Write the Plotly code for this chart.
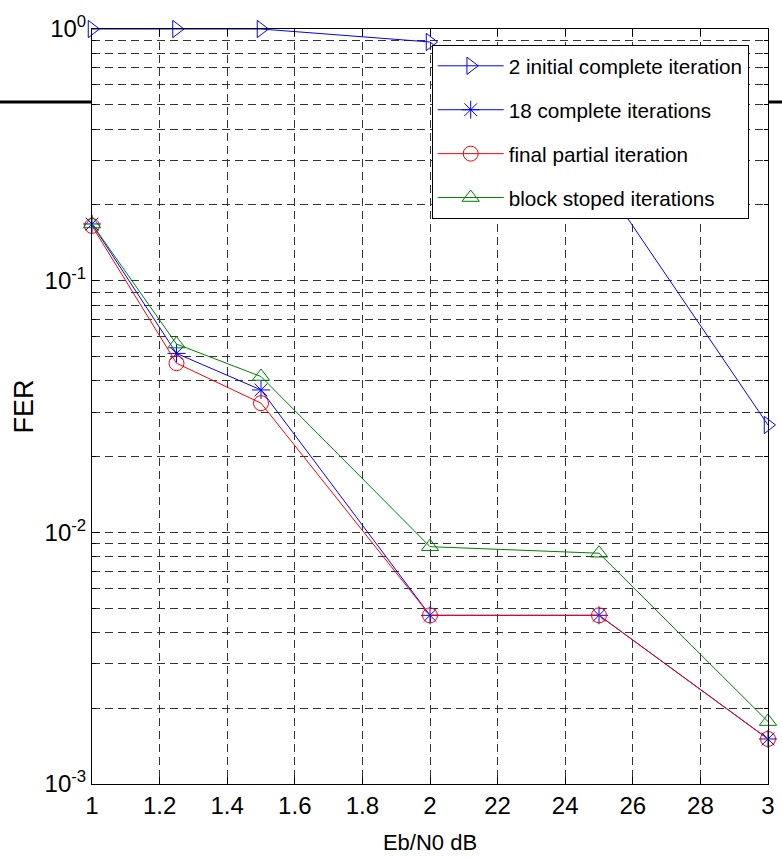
import plotly.graph_objects as go

# ---- data ----
ebn0 = [1, 1.25, 1.5, 2, 2.5, 3]
fer_2initial = [1.0, 1.0, 1.0, 0.888, 0.26, 0.0267]
fer_18complete = [0.168, 0.0514, 0.0368, 0.00468, 0.00468, 0.00151]
fer_final_partial = [0.165, 0.047, 0.0326, 0.00468, 0.00468, 0.00151]
fer_block_stoped = [0.168, 0.056, 0.0416, 0.00877, 0.00826, 0.00177]

series_names = ["2 initial complete iteration", "18 complete iterations",
                "final partial iteration", "block stoped iterations"]

x_tickvals = [1, 1.2, 1.4, 1.6, 1.8, 2, 2.2, 2.4, 2.6, 2.8, 3]
x_ticktext = ["1", "1.2", "1.4", "1.6", "1.8", "2", "22", "24", "26", "28", "3"]
y_tickvals = [1e-3, 1e-2, 1e-1, 1]
y_ticktext = ["10<sup>-3</sup>", "10<sup>-2</sup>", "10<sup>-1</sup>", "10<sup>0</sup>"]
y_minor = [m * 10.0 ** e for e in (-3, -2, -1) for m in range(2, 10)]

FONT = "Liberation Sans"

fig = go.Figure()
styles = [
    (fer_2initial, "#0000ff", "triangle-right-open"),
    (fer_18complete, "#0000ff", "asterisk-open"),
    (fer_final_partial, "#ff0000", "circle-open"),
    (fer_block_stoped, "#008000", "triangle-up-open"),
]
for i, ((ys, col, sym), name) in enumerate(zip(styles, series_names)):
    fig.add_trace(go.Scatter(
        x=ebn0, y=ys, name=name, mode="lines+markers",
        line=dict(color=col, width=1),
        marker=dict(symbol=sym, size=15, color=col, line=dict(color=col, width=1)),
        legendgroup=f"g{i}", cliponaxis=False,
    ))

grid_col = "#333333"
fig.update_xaxes(
    range=[1, 3], tickvals=x_tickvals, ticktext=x_ticktext, automargin=False,
    showline=True, linecolor="black", linewidth=1, mirror="allticks",
    ticks="inside", ticklen=7, tickcolor="black",
    showgrid=True, gridcolor=grid_col, griddash="8px,5px", gridwidth=1,
    zeroline=False,
    tickfont=dict(family=FONT, size=24, color="black"),
    title=dict(text="Eb/N0 dB", font=dict(family=FONT, size=22, color="black"), standoff=16),
)
fig.update_yaxes(
    type="log", range=[-3, 0], tickvals=y_tickvals, ticktext=y_ticktext, automargin=False,
    showline=True, linecolor="black", linewidth=1, mirror="allticks",
    ticks="inside", ticklen=7, tickcolor="black",
    showgrid=True, gridcolor=grid_col, griddash="8px,5px", gridwidth=1,
    zeroline=False,
    minor=dict(tickvals=y_minor, showgrid=True, gridcolor=grid_col, griddash="8px,5px",
               gridwidth=1, ticks="inside", ticklen=4, tickcolor="black"),
    tickfont=dict(family=FONT, size=24, color="black"),
    title=dict(text="FER", font=dict(family=FONT, size=27, color="black"), standoff=3),
)

# background rule of the page behind the figure
for x0, x1 in [(-0.2, 0.0), (1.0, 1.1)]:
    fig.add_shape(type="line", xref="paper", yref="paper", x0=x0, x1=x1,
                  y0=0.9033, y1=0.9033, line=dict(color="black", width=3), layer="below")

fig.update_layout(
    width=782, height=858,
    margin=dict(l=92, r=14, t=29, b=74, autoexpand=False),
    paper_bgcolor="white", plot_bgcolor="white",
    font=dict(family=FONT, color="black"),
    legend=dict(
        x=0.5025, y=0.979, xanchor="left", yanchor="top",
        bgcolor="white", bordercolor="black", borderwidth=1,
        font=dict(family=FONT, size=20.7, color="black"),
        tracegroupgap=14, itemwidth=66,
    ),
)

fig.write_html("out.html")
